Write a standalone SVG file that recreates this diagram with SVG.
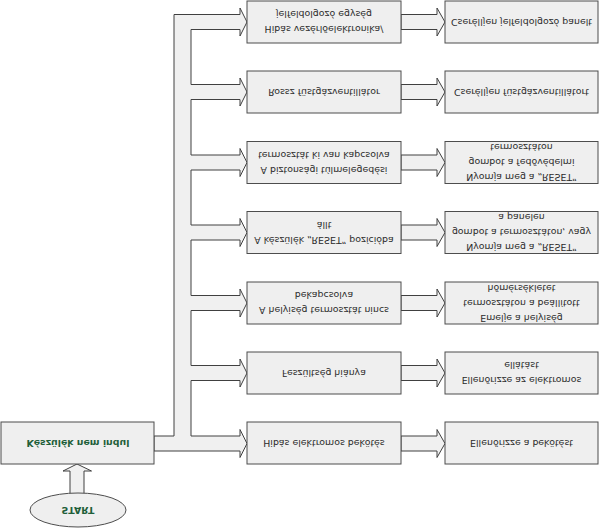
<svg xmlns="http://www.w3.org/2000/svg" width="599" height="528" viewBox="0 0 599 528">
<style>
.bx{fill:#efefef;stroke:#4d4d4d;stroke-width:1}
.ar{fill:#f0f0f0;stroke:#404040;stroke-width:1;stroke-linejoin:miter}
.t{font-family:"DejaVu Sans",Verdana,sans-serif;font-size:9.4px;fill:#2b2b2b;text-anchor:middle;dominant-baseline:central}
.g{font-family:"DejaVu Sans",Verdana,sans-serif;font-size:9.4px;font-weight:bold;fill:#1f5f3a;text-anchor:middle;dominant-baseline:central}
</style>
<rect width="599" height="528" fill="#ffffff"/>
<g id="connectors">
<path class="ar" d="M154,436 L174,436 L174,14.5 L240,14.5 L240,8 L247,22 L240,36 L240,29.5 L191,29.5 L191,84.5 L240,84.5 L240,78 L247,92 L240,106 L240,99.5 L191,99.5 L191,155 L240,155 L240,148.5 L247,162.5 L240,176.5 L240,170 L191,170 L191,225 L240,225 L240,218.5 L247,232.5 L240,246.5 L240,240 L191,240 L191,295.5 L240,295.5 L240,289 L247,303 L240,317 L240,310.5 L191,310.5 L191,365.5 L240,365.5 L240,359 L247,373 L240,387 L240,380.5 L191,380.5 L191,436 L240,436 L240,429.5 L247,443.5 L240,457.5 L240,451 L154,451 Z"/>
<path class="ar" d="M401,14.5 L437,14.5 L437,8 L445,22 L437,36 L437,29.5 L401,29.5 Z"/>
<path class="ar" d="M401,84.5 L437,84.5 L437,78 L445,92 L437,106 L437,99.5 L401,99.5 Z"/>
<path class="ar" d="M401,155 L437,155 L437,148.5 L445,162.5 L437,176.5 L437,170 L401,170 Z"/>
<path class="ar" d="M401,225 L437,225 L437,218.5 L445,232.5 L437,246.5 L437,240 L401,240 Z"/>
<path class="ar" d="M401,295.5 L437,295.5 L437,289 L445,303 L437,317 L437,310.5 L401,310.5 Z"/>
<path class="ar" d="M401,365.5 L437,365.5 L437,359 L445,373 L437,387 L437,380.5 L401,380.5 Z"/>
<path class="ar" d="M401,436 L437,436 L437,429.5 L445,443.5 L437,457.5 L437,451 L401,451 Z"/>
<path class="ar" d="M70,496 L70,471 L63,471 L77,464 L91.5,471 L84,471 L84,496 Z"/>
</g>
<g id="start">
<ellipse class="bx" cx="78" cy="510" rx="48" ry="17"/>
<g transform="matrix(1 0 0 -1 0 1020)"><text class="g" x="78" y="510">START</text></g>
</g>
<g id="n0">
<rect class="bx" x="1" y="422" width="153" height="42"/>
<g transform="matrix(1 0 0 -1 0 886)"><text class="g" x="78" y="443">Készülék nem indul</text></g>
</g>
<g id="c1">
<rect class="bx" x="247" y="1" width="154" height="42"/>
<g transform="matrix(1 0 0 -1 0 44)"><text class="t" x="324" y="14.5">Hibás vezérlőelektronika/</text><text class="t" x="324" y="29.5">jelfeldolgozó egység</text></g>
</g>
<g id="c2">
<rect class="bx" x="247" y="71" width="154" height="42"/>
<g transform="matrix(1 0 0 -1 0 184)"><text class="t" x="324" y="92">Rossz füstgázventillátor</text></g>
</g>
<g id="c3">
<rect class="bx" x="247" y="141.5" width="154" height="42"/>
<g transform="matrix(1 0 0 -1 0 325)"><text class="t" x="324" y="155">A biztonsági túlmelegedési</text><text class="t" x="324" y="170">termosztát ki van kapcsolva</text></g>
</g>
<g id="c4">
<rect class="bx" x="247" y="211.5" width="154" height="42"/>
<g transform="matrix(1 0 0 -1 0 465)"><text class="t" x="324" y="225">A készülék „RESET” pozícióba</text><text class="t" x="324" y="240">állt</text></g>
</g>
<g id="c5">
<rect class="bx" x="247" y="282" width="154" height="42"/>
<g transform="matrix(1 0 0 -1 0 606)"><text class="t" x="324" y="295.5">A helyiség termosztát nincs</text><text class="t" x="324" y="310.5">bekapcsolva</text></g>
</g>
<g id="c6">
<rect class="bx" x="247" y="352" width="154" height="42"/>
<g transform="matrix(1 0 0 -1 0 746)"><text class="t" x="324" y="373">Feszültség hiánya</text></g>
</g>
<g id="c7">
<rect class="bx" x="247" y="422" width="154" height="42"/>
<g transform="matrix(1 0 0 -1 0 886)"><text class="t" x="324" y="443">Hibás elektromos bekötés</text></g>
</g>
<g id="s1">
<rect class="bx" x="445" y="1" width="153" height="42"/>
<g transform="matrix(1 0 0 -1 0 44)"><text class="t" x="521.5" y="22">Cserélljen jelfeldolgozó panelt</text></g>
</g>
<g id="s2">
<rect class="bx" x="445" y="71" width="153" height="42"/>
<g transform="matrix(1 0 0 -1 0 184)"><text class="t" x="521.5" y="92">Cserélljen füstgázventillátort</text></g>
</g>
<g id="s3">
<rect class="bx" x="445" y="141.5" width="153" height="42"/>
<g transform="matrix(1 0 0 -1 0 325)"><text class="t" x="521.5" y="147.5">Nyomja meg a „RESET”</text><text class="t" x="521.5" y="162.5">gombot a fedővédelmi</text><text class="t" x="521.5" y="177.5">termosztáton</text></g>
</g>
<g id="s4">
<rect class="bx" x="445" y="211.5" width="153" height="42"/>
<g transform="matrix(1 0 0 -1 0 465)"><text class="t" x="521.5" y="217.5">Nyomja meg a „RESET”</text><text class="t" x="521.5" y="232.5">gombot a termosztáton, vagy</text><text class="t" x="521.5" y="247.5">a panelen</text></g>
</g>
<g id="s5">
<rect class="bx" x="445" y="282" width="153" height="42"/>
<g transform="matrix(1 0 0 -1 0 606)"><text class="t" x="521.5" y="288">Emelje a helyiség</text><text class="t" x="521.5" y="303">termosztáton a beállított</text><text class="t" x="521.5" y="318">hőmérsékletet</text></g>
</g>
<g id="s6">
<rect class="bx" x="445" y="352" width="153" height="42"/>
<g transform="matrix(1 0 0 -1 0 746)"><text class="t" x="521.5" y="365.5">Ellenőrizze az elektromos</text><text class="t" x="521.5" y="380.5">ellátást</text></g>
</g>
<g id="s7">
<rect class="bx" x="445" y="422" width="153" height="42"/>
<g transform="matrix(1 0 0 -1 0 886)"><text class="t" x="521.5" y="443">Ellenőrizze a bekötést</text></g>
</g>
</svg>
